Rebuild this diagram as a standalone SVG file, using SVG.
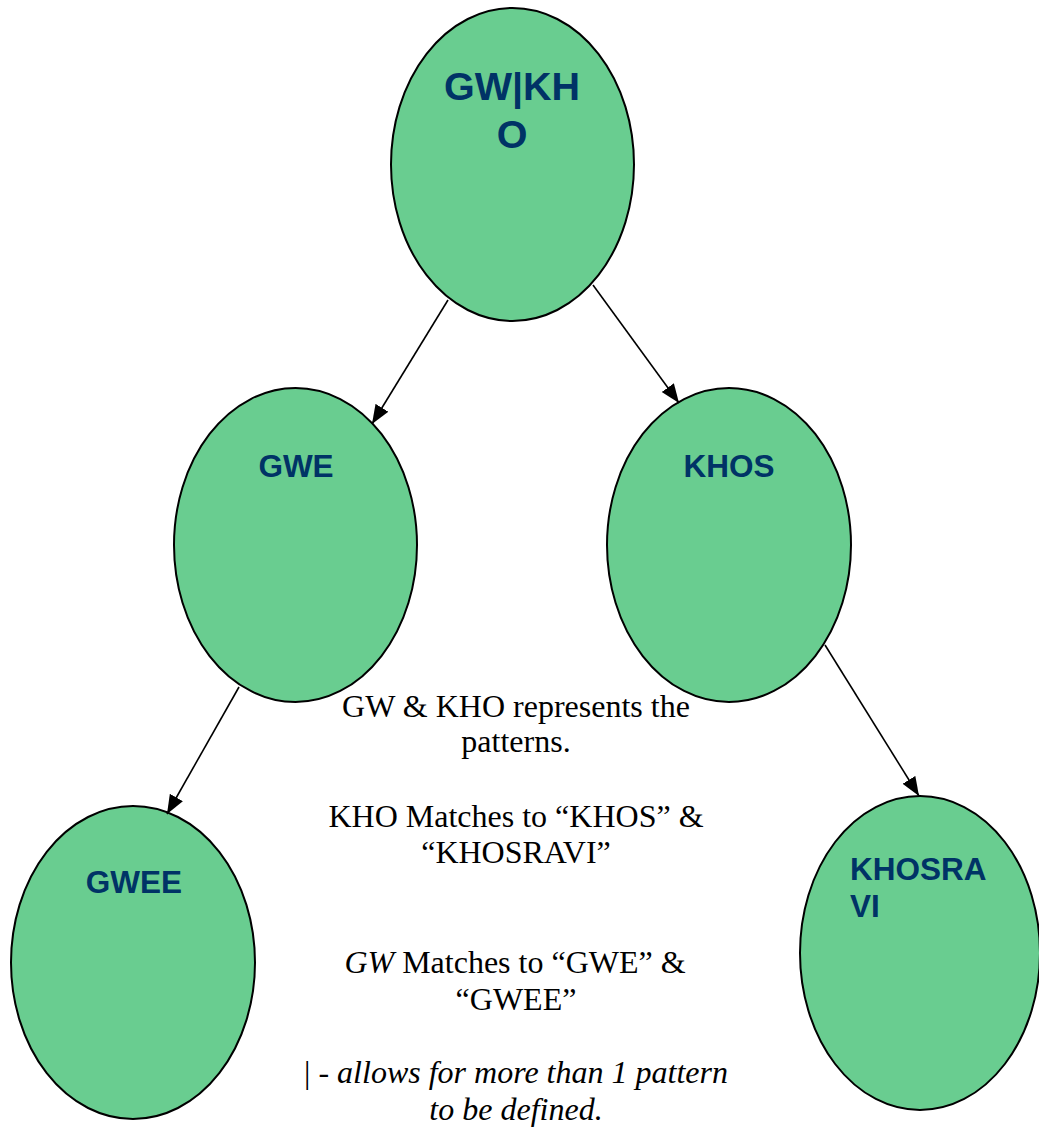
<svg xmlns="http://www.w3.org/2000/svg" width="1039" height="1129" viewBox="0 0 1039 1129">
<defs>
<marker id="arr" markerUnits="userSpaceOnUse" markerWidth="20" markerHeight="16" refX="19" refY="7.5" orient="auto">
<path d="M0,0 L19,7.5 L0,15 z" fill="#000"/>
</marker>
<style>
.node{fill:#69CD90;stroke:#000;stroke-width:2}
.lbl{font-family:"Liberation Sans",Arial,sans-serif;font-weight:bold;fill:#003366;font-size:31.5px}
.big{font-size:39.5px}
.edge{stroke:#000;stroke-width:1.6;fill:none;marker-end:url(#arr)}
.note{font-family:"Liberation Serif","Times New Roman",serif;font-size:32px;fill:#000;text-anchor:middle}
</style>
</defs>
<rect width="1039" height="1129" fill="#fff"/>
<g id="n-gwkho">
<ellipse class="node" cx="512.5" cy="164.5" rx="121.5" ry="156.5"/>
<text class="lbl big" x="512" y="100" text-anchor="middle">GW|KH</text>
<text class="lbl big" x="512" y="148" text-anchor="middle">O</text>
</g>
<g id="n-gwe">
<ellipse class="node" cx="295.5" cy="545" rx="121.5" ry="157"/>
<text class="lbl" x="296" y="477" text-anchor="middle">GWE</text>
</g>
<g id="n-khos">
<ellipse class="node" cx="729" cy="545" rx="122" ry="157"/>
<text class="lbl" x="729" y="477" text-anchor="middle">KHOS</text>
</g>
<g id="n-gwee">
<ellipse class="node" cx="133" cy="962.5" rx="122" ry="156.5"/>
<text class="lbl" x="134" y="893" text-anchor="middle">GWEE</text>
</g>
<g id="n-khosravi">
<ellipse class="node" cx="920" cy="953" rx="120" ry="157"/>
<text class="lbl" x="850" y="880">KHOSRA</text>
<text class="lbl" x="850" y="917">VI</text>
</g>
<g id="connectors">
<line class="edge" x1="448" y1="300" x2="372" y2="424"/>
<line class="edge" x1="593" y1="285" x2="679" y2="403"/>
<line class="edge" x1="239" y1="687" x2="167" y2="814"/>
<line class="edge" x1="825" y1="645" x2="919" y2="796"/>
</g>
<g id="notes">
<text class="note" x="516" y="717">GW &amp; KHO represents the</text>
<text class="note" x="516" y="752">patterns.</text>
<text class="note" x="516" y="827">KHO Matches to “KHOS” &amp;</text>
<text class="note" x="516" y="863">“KHOSRAVI”</text>
<text class="note" x="515" y="973"><tspan font-style="italic">GW</tspan> Matches to “GWE” &amp;</text>
<text class="note" x="516" y="1010">“GWEE”</text>
<text class="note" x="516" y="1083">| - <tspan font-style="italic">allows for more than 1 pattern</tspan></text>
<text class="note" x="516" y="1120" font-style="italic">to be defined.</text>
</g>
</svg>
